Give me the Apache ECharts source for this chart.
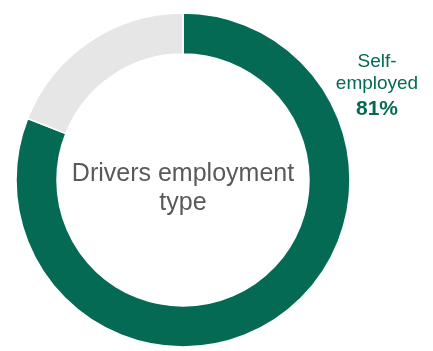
<!DOCTYPE html>
<html>
<head>
<meta charset="utf-8">
<script src="https://cdn.jsdelivr.net/npm/echarts@6/dist/echarts.min.js"></script>
<style>
html,body{margin:0;padding:0;background:#fff;}
#chart{width:433px;height:351px;}
</style>
</head>
<body>
<div id="chart"></div>
<script>
var categories = ['Self-employed', 'Other'];
var values = [81, 19];
var colors = ['#046A53', '#E6E6E6'];
var centerTitle = 'Drivers employment\ntype';
var labelLines = ['Self-', 'employed'];

var chart = echarts.init(document.getElementById('chart'), null, {renderer: 'canvas'});
var data = categories.map(function (c, i) {
  return {name: c, value: values[i], itemStyle: {color: colors[i]}};
});
chart.setOption({
  animation: false,
  backgroundColor: '#ffffff',
  series: [{
    type: 'pie',
    center: [183, 180],
    radius: [126, 167],
    startAngle: 90,
    clockwise: true,
    silent: true,
    label: {show: false},
    labelLine: {show: false},
    itemStyle: {borderColor: '#ffffff', borderWidth: 1.5},
    data: data
  }],
  graphic: [
    {
      type: 'text',
      x: 183,
      y: 189,
      style: {
        text: centerTitle,
        fill: '#595959',
        font: '25px "Liberation Sans", Arial, sans-serif',
        lineHeight: 29,
        align: 'center',
        verticalAlign: 'middle'
      }
    },
    {
      type: 'text',
      x: 377,
      y: 51,
      style: {
        text: '{a|' + labelLines[0] + '}\n{a|' + labelLines[1] + '}\n{b|' + values[0] + '%}',
        align: 'center',
        verticalAlign: 'top',
        rich: {
          a: {fill: '#046A53', font: '19px "Liberation Sans", Arial, sans-serif', lineHeight: 22, align: 'center'},
          b: {fill: '#046A53', font: 'bold 21px "Liberation Sans", Arial, sans-serif', lineHeight: 29, align: 'center'}
        }
      }
    }
  ]
});
</script>
</body>
</html>
